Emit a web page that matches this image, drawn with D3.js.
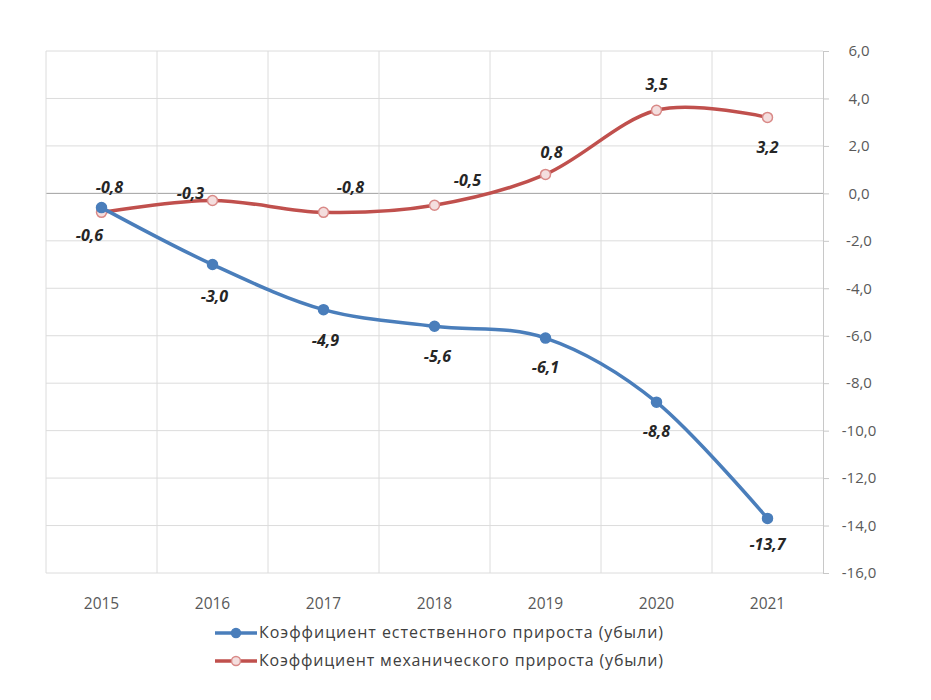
<!DOCTYPE html>
<html><head><meta charset="utf-8">
<script src="https://cdn.jsdelivr.net/npm/d3@7"></script>
<style>body{margin:0;background:#fff}svg{display:block}</style>
</head><body>
<svg id="c" width="931" height="700"></svg>
<script>
const years = ["2015","2016","2017","2018","2019","2020","2021"];
const natural = [-0.6, -3.0, -4.9, -5.6, -6.1, -8.8, -13.7];
const migration = [-0.8, -0.3, -0.8, -0.5, 0.8, 3.5, 3.2];
const seriesNames = ["Коэффициент естественного прироста (убыли)", "Коэффициент механического прироста (убыли)"];
const yTicks = [6, 4, 2, 0, -2, -4, -6, -8, -10, -12, -14, -16];

// label placement (pixel offsets)
const natOff = [[-12,33],[2,37],[2,36],[3,36],[0,35],[0,35],[0,32]];
const migOff = [[8,-19],[-22,-1],[27,-19],[33,-19],[6,-16],[0,-20],[0,36]];

const svg = d3.select("#c");
const L = 46, R = 823, T = 51, B = 573;
const x = d3.scaleBand().domain(years).range([L, R]);
const y = d3.scaleLinear().domain([-16, 6]).range([B, T]);
const fmt = v => d3.format(".1f")(v).replace(".", ",").replace("−","-");

const g = svg.append("g");
g.selectAll("line.hg").data(yTicks).join("line")
  .attr("x1", L).attr("x2", R).attr("y1", d => y(d)).attr("y2", d => y(d))
  .attr("stroke", d => d === 0 ? "#a0a0a0" : "#dcdcdc").attr("stroke-width", 1);
g.selectAll("line.vg").data(years).join("line")
  .attr("x1", d => x(d)).attr("x2", d => x(d)).attr("y1", T).attr("y2", B)
  .attr("stroke", "#dcdcdc");
const ax = d3.axisRight(y).tickValues(yTicks).tickSize(6).tickPadding(0).tickFormat(fmt);
const ag = svg.append("g").attr("transform", `translate(${R},0)`).call(ax);
ag.select(".domain").attr("stroke", "#c8c8c8");
ag.selectAll(".tick line").attr("stroke", "#c8c8c8");
ag.selectAll(".tick text").attr("x", 36).attr("text-anchor", "middle")
  .attr("fill", "#595959").attr("font-size", 15).attr("font-family", "'Open Sans', sans-serif");

svg.append("g").selectAll("text").data(years).join("text")
  .attr("x", d => x(d) + x.bandwidth()/2).attr("y", 609)
  .attr("text-anchor", "middle").attr("fill", "#595959").attr("font-size", 15.5)
  .attr("font-family", "'Open Sans', sans-serif").text(d => d);

const cx = (d, i) => x(years[i]) + x.bandwidth()/2;
const line = d3.line().x((d, i) => cx(d, i)).y(d => y(d)).curve(d3.curveCardinal);

function series(vals, color, mfill, mstroke, off) {
  const s = svg.append("g");
  s.append("path").datum(vals).attr("d", line).attr("fill", "none")
    .attr("stroke", color).attr("stroke-width", 3.5).attr("stroke-linecap", "round");
  s.selectAll("circle").data(vals).join("circle")
    .attr("cx", cx).attr("cy", d => y(d)).attr("r", 5)
    .attr("fill", mfill).attr("stroke", mstroke).attr("stroke-width", 1.5);
  s.selectAll("text").data(vals).join("text")
    .attr("x", (d, i) => cx(d, i) + off[i][0]).attr("y", (d, i) => y(d) + off[i][1])
    .attr("text-anchor", "middle").attr("font-size", 16).attr("font-weight", "bold")
    .attr("font-style", "italic").attr("fill", "#262626")
    .attr("font-family", "'Open Sans', sans-serif").text(fmt);
}
series(migration, "#c0504d", "#f4dede", "#d98987", migOff);
series(natural, "#4a7ebb", "#4a7ebb", "#4a7ebb", natOff);

const lg = svg.append("g");
const legend = [
  {name: seriesNames[0], color: "#4a7ebb", fill: "#4a7ebb", stroke: "#4a7ebb"},
  {name: seriesNames[1], color: "#c0504d", fill: "#f4dede", stroke: "#d98987"}
];
legend.forEach((d, i) => {
  const yy = 633 + i * 28;
  lg.append("line").attr("x1", 215).attr("x2", 257).attr("y1", yy).attr("y2", yy)
    .attr("stroke", d.color).attr("stroke-width", 3.5);
  lg.append("circle").attr("cx", 236).attr("cy", yy).attr("r", 4.5)
    .attr("fill", d.fill).attr("stroke", d.stroke).attr("stroke-width", 1.5);
  lg.append("text").attr("x", 259).attr("y", yy + 5).attr("font-size", 16)
    .attr("textLength", 404).attr("lengthAdjust", "spacing")
    .attr("fill", "#404040").attr("font-family", "'Open Sans', sans-serif").text(d.name);
});
</script>
</body></html>
